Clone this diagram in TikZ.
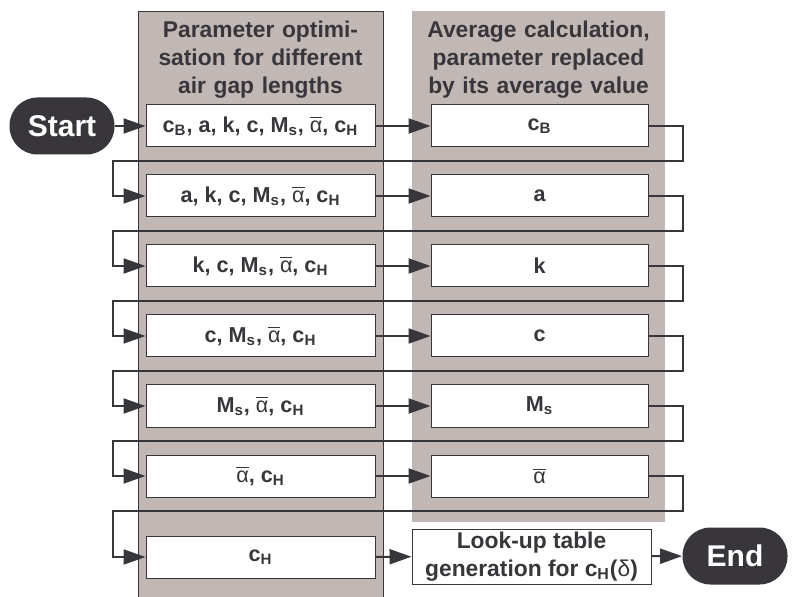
\documentclass[tikz,border=0pt]{standalone}
\usepackage{fontspec}
\setmainfont{Liberation Sans}
\usepackage{tikz}
\usetikzlibrary{arrows.meta}
\definecolor{dark}{RGB}{56,54,58}
\definecolor{panel}{RGB}{193,184,181}
\newcommand{\abar}{$\overline{\mbox{\mdseries α}}$}
\begin{document}
\begin{tikzpicture}[x=0.5pt, y=-0.5pt,
						font=\bfseries\fontsize{10.8}{14}\selectfont, text=dark,
						optbox/.style={rectangle, draw=dark, line width=0.5pt, fill=white, minimum width=114.5pt, minimum height=21pt, inner sep=0pt},
						avgbox/.style={rectangle, draw=dark, line width=0.5pt, fill=white, minimum width=108.5pt, minimum height=21pt, inner sep=0pt},
						terminal/.style={rectangle, rounded corners=14pt, fill=dark, text=white, minimum width=52.5pt, minimum height=28.5pt, font=\bfseries\fontsize{15}{18}\selectfont},
						heading/.style={text width=135pt, align=center, font=\bfseries\fontsize{11.4}{14}\selectfont},
						flow/.style={-{Triangle[length=11pt,width=7.5pt]}, line width=1pt, draw=dark}
						]
						\useasboundingbox (0,0) rectangle (795,597);
						
						% Paneles de fondo
						\fill[panel] (138,11) rectangle (383,597);
						\draw[dark, line width=0.4pt] (138,597) |- (383,11) -- (383,597);
						\fill[panel] (412,11) rectangle (665,522);
						
						% Encabezados
						\node[heading] (hopt) at (260.5,60) {Parameter optimi-\\sation for different\\air gap lengths};
						\node[heading] (havg) at (538.5,60) {Average calculation,\\parameter replaced\\by its average value};
						
						% Nodos de inicio y fin
						\node[terminal] (start) at (62,126) {Start};
						\node[terminal] (end) at (735,556) {End};
						
						% Optimización
						\node[optbox] (p1) at (260.5,126) {c\textsubscript{B}, a, k, c, M\textsubscript{s}, \abar, c\textsubscript{H}};
						\node[optbox] (p2) at (260.5,196) {a, k, c, M\textsubscript{s}, \abar, c\textsubscript{H}};
						\node[optbox] (p3) at (260.5,266) {k, c, M\textsubscript{s}, \abar, c\textsubscript{H}};
						\node[optbox] (p4) at (260.5,336) {c, M\textsubscript{s}, \abar, c\textsubscript{H}};
						\node[optbox] (p5) at (260.5,406) {M\textsubscript{s}, \abar, c\textsubscript{H}};
						\node[optbox] (p6) at (260.5,476) {\abar, c\textsubscript{H}};
						\node[optbox] (p7) at (260.5,557) {c\textsubscript{H}};
						
						% Promedios
						\node[avgbox] (v1) at (539.5,126) {c\textsubscript{B}};
						\node[avgbox] (v2) at (539.5,196) {a};
						\node[avgbox] (v3) at (539.5,266) {k};
						\node[avgbox] (v4) at (539.5,336) {c};
						\node[avgbox] (v5) at (539.5,406) {M\textsubscript{s}};
						\node[avgbox] (v6) at (539.5,476) {\abar};
						
						% Tabla
						\node[rectangle, draw=dark, line width=0.5pt, fill=white, minimum width=119.5pt, minimum height=27.5pt, inner sep=0pt, align=center, font=\bfseries\fontsize{11.4}{14}\selectfont] (lut) at (531.5,556.5) {Look-up table\\generation for c\textsubscript{H}({\mdseries δ})};
						
						% Puntos de retorno
						\coordinate (t1) at (683,161);
						\coordinate (t2) at (683,231);
						\coordinate (t3) at (683,301);
						\coordinate (t4) at (683,371);
						\coordinate (t5) at (683,441);
						\coordinate (t6) at (683,511);
						\coordinate (l2) at (113,196);
						\coordinate (l3) at (113,266);
						\coordinate (l4) at (113,336);
						\coordinate (l5) at (113,406);
						\coordinate (l6) at (113,476);
						\coordinate (l7) at (113,557);
						
						% Flechas
						\draw[flow] (start) -- (p1);
						\draw[flow] (p1) -- (v1);
						\draw[flow] (p2) -- (v2);
						\draw[flow] (p3) -- (v3);
						\draw[flow] (p4) -- (v4);
						\draw[flow] (p5) -- (v5);
						\draw[flow] (p6) -- (v6);
						\draw[flow] (p7) -- (lut);
						\draw[flow] (lut) -- (end);
						\draw[flow] (v1.east) -| (t1) -| (l2) -- (p2.west);
						\draw[flow] (v2.east) -| (t2) -| (l3) -- (p3.west);
						\draw[flow] (v3.east) -| (t3) -| (l4) -- (p4.west);
						\draw[flow] (v4.east) -| (t4) -| (l5) -- (p5.west);
						\draw[flow] (v5.east) -| (t5) -| (l6) -- (p6.west);
						\draw[flow] (v6.east) -| (t6) -| (l7) -- (p7.west);
						
					\end{tikzpicture}
\end{document}
